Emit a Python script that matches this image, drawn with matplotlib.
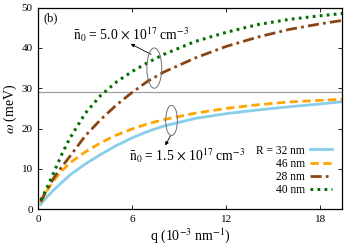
import matplotlib
matplotlib.use("Agg")
import matplotlib.pyplot as plt
from matplotlib.patches import Ellipse

plt.rcParams['font.family'] = ['Liberation Serif', 'DejaVu Serif']
plt.rcParams['mathtext.fontset'] = 'stix'

q = [0.15, 0.5, 1, 1.5, 2, 3, 4, 5, 6, 7, 8, 10, 12, 14, 16, 18, 19.5]
w_32 = [1.2, 2.8, 4.8, 6.6, 8.4, 11.2, 13.6, 15.8, 17.7, 19.3, 20.6, 22.5, 23.7, 24.6, 25.4, 26.1, 26.7]
w_46 = [1.6, 4.2, 7.2, 9.5, 11.4, 14.2, 16.5, 18.4, 19.9, 21.2, 22.2, 23.8, 25.0, 25.9, 26.6, 27.0, 27.3]
w_28 = [1.8, 4.5, 7.8, 10.5, 13.0, 18.2, 22.3, 25.9, 29.0, 31.8, 34.0, 37.5, 40.4, 42.7, 44.6, 46.0, 46.9]
w_40 = [2.2, 4.8, 9.2, 13.6, 17.5, 23.8, 28.3, 31.6, 34.2, 36.4, 38.4, 41.6, 43.9, 45.8, 47.1, 48.0, 48.6]
labels = ["R = 32 nm", "46 nm", "28 nm", "40 nm"]
xticks = [0, 6, 12, 18]
yticks = [0, 10, 20, 30, 40, 50]
hline = 29

fig = plt.figure(figsize=(3.54, 2.48), dpi=100)
ax = fig.add_axes([0.1082, 0.157, 0.859, 0.812])

ax.axhline(hline, color='#a0a0a0', lw=0.9, zorder=1)
l1, = ax.plot(q, w_32, color='#87ceeb', lw=2.0, ls='-', label=labels[0])
l2, = ax.plot(q, w_46, color='#ffa500', lw=2.0, ls=(0, (3, 1.6)), label=labels[1])
l3, = ax.plot(q, w_28, color='#8b4513', lw=2.0, ls=(0, (4, 1.5, 1, 1.5)), label=labels[2])
l4, = ax.plot(q, w_40, color='#006f00', lw=2.2, ls=(0, (0.9, 1.4)), label=labels[3])

ax.set_xlim(0, 19.4)
ax.set_ylim(0, 50)
ax.set_xticks(xticks)
ax.set_yticks(yticks)
ax.tick_params(direction='in', top=True, right=True, length=3, width=0.6,
               labelsize=8, pad=4)
for s in ax.spines.values():
    s.set_linewidth(0.9)

ax.set_xlabel(r'q (10$^{-3}$ nm$^{-1}$)', fontsize=10, labelpad=2)
ax.set_ylabel(r'$\omega$ (meV)', fontsize=10, labelpad=2)

ax.text(0.35, 47.4, '(b)', fontsize=9, va='center', ha='left')

ax.text(2.2, 43.3, r'$\bar{\rm n}_0$ = 5.0 $\times$ 10$^{17}$ cm$^{-3}$', fontsize=9.8,
        va='center', ha='left')
ax.text(5.8, 13.3, r'$\bar{\rm n}_0$ = 1.5 $\times$ 10$^{17}$ cm$^{-3}$', fontsize=9.8,
        va='center', ha='left')

ax.add_patch(Ellipse((7.4, 35.0), 0.95, 10.0, fill=False, ec='#707070', lw=0.7, zorder=5))
ax.add_patch(Ellipse((8.5, 22.0), 0.75, 7.5, fill=False, ec='#707070', lw=0.7, zorder=5))
ax.annotate('', xy=(5.9, 41.0), xytext=(7.2, 38.4),
            arrowprops=dict(arrowstyle='-|>', color='black', lw=0.6,
                            mutation_scale=5, shrinkA=0, shrinkB=0))
ax.annotate('', xy=(8.1, 15.8), xytext=(8.45, 18.3),
            arrowprops=dict(arrowstyle='-|>', color='black', lw=0.6,
                            mutation_scale=5, shrinkA=0, shrinkB=0))

leg = ax.legend(handles=[l1, l2, l3, l4], loc='lower right', bbox_to_anchor=(0.965, 0.065),
                markerfirst=False, frameon=False, fontsize=8.3, handlelength=1.9,
                handletextpad=0.4, labelspacing=0.1, borderpad=0, borderaxespad=0)

fig.savefig('out.png', dpi=100)
